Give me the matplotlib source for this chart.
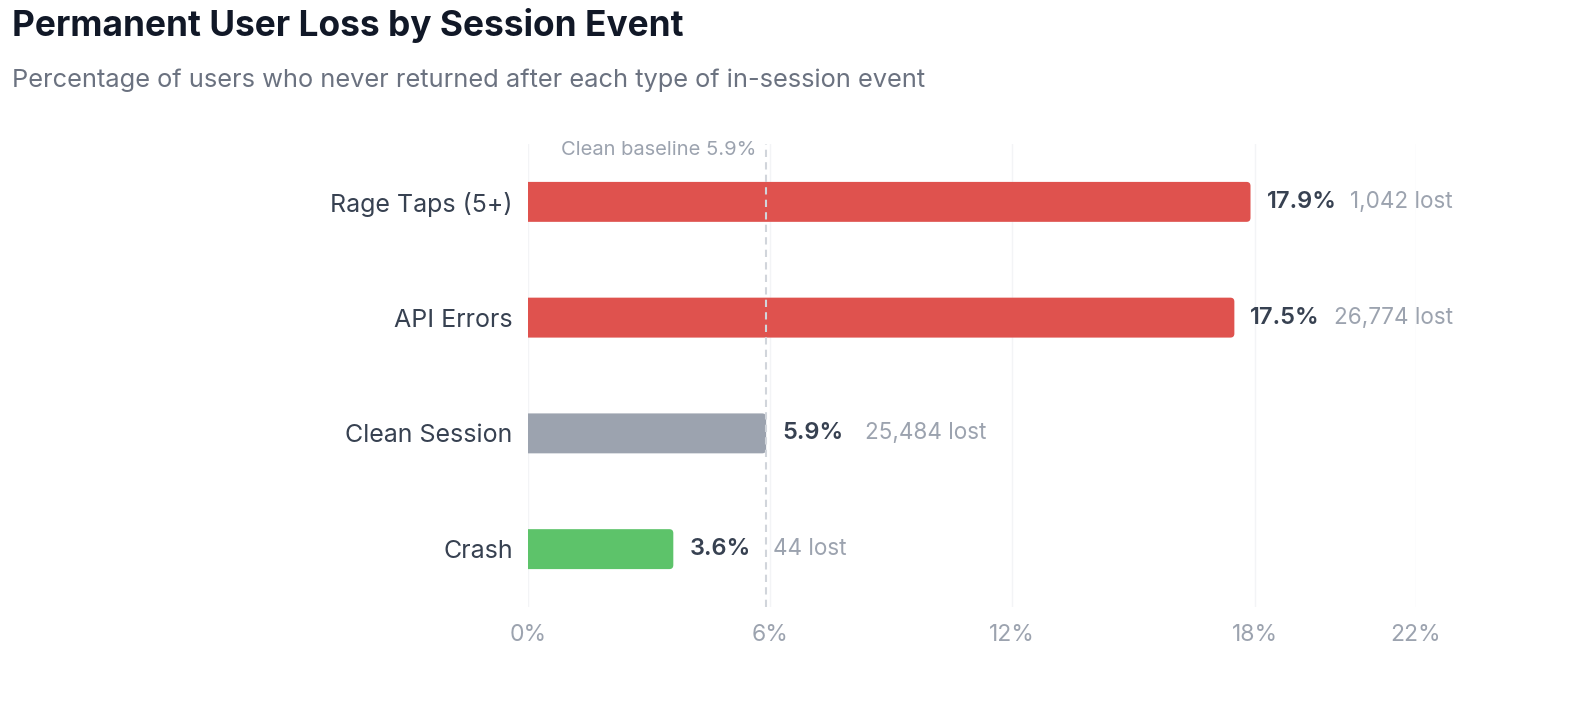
import matplotlib
matplotlib.use("Agg")
import matplotlib.pyplot as plt
from matplotlib.path import Path
from matplotlib.patches import PathPatch

plt.rcParams['font.family'] = ['Inter', 'DejaVu Sans']

# ---- data ----
categories = ["Rage Taps (5+)", "API Errors", "Clean Session", "Crash"]
loss_pct = [17.9, 17.5, 5.9, 3.6]
users_lost = [1042, 26774, 25484, 44]
bar_colors = ["#df524e", "#df524e", "#9ca3af", "#5dc36a"]
baseline_pct = 5.9
x_ticks = [0, 6, 12, 18, 22]
x_tick_labels = ["0%", "6%", "12%", "18%", "22%"]
title = "Permanent User Loss by Session Event"
subtitle = "Percentage of users who never returned after each type of in-session event"

W, H, DPI = 1578, 720, 100
fig = plt.figure(figsize=(W / DPI, H / DPI), dpi=DPI)
fig.patch.set_facecolor("white")

ax_left, ax_right, ax_top, ax_bottom = 528, 1416, 144, 607
ax = fig.add_axes([ax_left / W, 1 - ax_bottom / H, (ax_right - ax_left) / W, (ax_bottom - ax_top) / H])

ax.set_xlim(0, 22)
ax.set_ylim(len(categories) - 0.5, -0.5)

ypos = list(range(len(categories)))
bar_h = 0.345
bars = ax.barh(ypos, loss_pct, height=bar_h, color=bar_colors, zorder=2)

# replace each bar with a shape that has rounded right corners
px_x = 22 / (ax_right - ax_left)
px_y = len(categories) / (ax_bottom - ax_top)
r_px = 4
rx, ry = r_px * px_x, r_px * px_y
for b, c in zip(bars, bar_colors):
    x0, y0, w, h = b.get_x(), b.get_y(), b.get_width(), b.get_height()
    x1, y1 = x0 + w, y0 + h
    verts = [(x0, y0), (x1 - rx, y0), (x1, y0), (x1, y0 + ry),
             (x1, y1 - ry), (x1, y1), (x1 - rx, y1), (x0, y1), (x0, y0)]
    codes = [Path.MOVETO, Path.LINETO, Path.CURVE3, Path.CURVE3,
             Path.LINETO, Path.CURVE3, Path.CURVE3, Path.LINETO, Path.CLOSEPOLY]
    b.set_visible(False)
    ax.add_patch(PathPatch(Path(verts, codes), facecolor=c, edgecolor="none", zorder=2))

# grid
for t in x_ticks:
    ax.axvline(t, color="#f3f4f6", lw=1, zorder=0)

# baseline
ax.axvline(baseline_pct, color="#d1d5db", lw=1.5, dashes=(3.5, 2.5), zorder=3)
ax.annotate(f"Clean baseline {baseline_pct}%", xy=(baseline_pct, 1), xycoords=("data", "axes fraction"),
            xytext=(-7, -4), textcoords="offset points", ha="right", va="center",
            fontsize=14.5, color="#9ca3af")

# value labels
for i, (v, n) in enumerate(zip(loss_pct, users_lost)):
    ax.annotate(f"{v}%", xy=(v, i), xytext=(11.5, 0), textcoords="offset points",
                ha="left", va="center", fontsize=17, fontweight="semibold", color="#374151")
    ax.annotate(f"{n:,} lost", xy=(v, i), xytext=(71.5, 0), textcoords="offset points",
                ha="left", va="center", fontsize=16.2, color="#9ca3af")

ax.set_yticks(ypos)
ax.set_yticklabels(categories, fontsize=18, color="#374151")
ax.set_xticks(x_ticks)
ax.set_xticklabels(x_tick_labels, fontsize=16.5, color="#9ca3af")
ax.tick_params(axis="both", length=0)
ax.tick_params(axis="y", pad=11)
ax.tick_params(axis="x", pad=12)
for s in ax.spines.values():
    s.set_visible(False)
ax.set_facecolor("none")

fig.text(12 / W, 1 - 36 / H, title, fontsize=25.4, fontweight="bold", color="#111827", va="baseline", ha="left")
fig.text(12 / W, 1 - 87 / H, subtitle, fontsize=18.3, color="#6b7280", va="baseline", ha="left")

fig.savefig("out.png", dpi=DPI, facecolor="white")
